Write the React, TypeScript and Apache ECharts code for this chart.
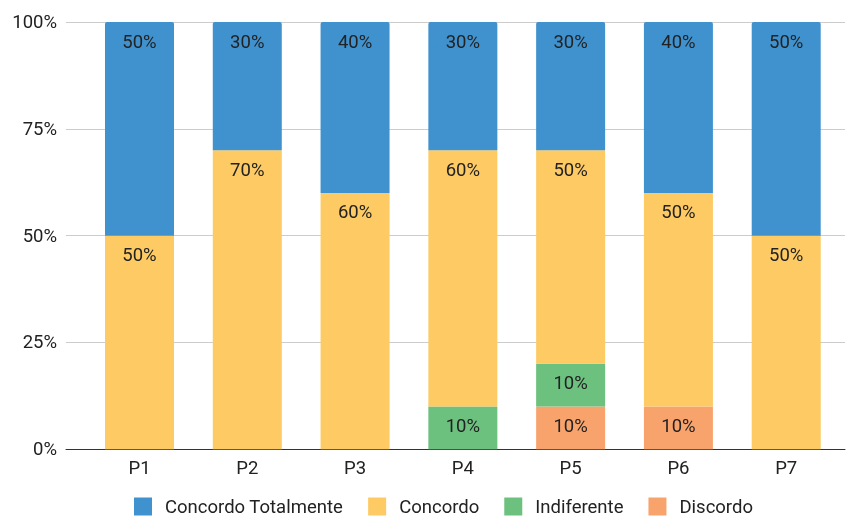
import React, { useEffect, useRef } from "react";
import * as echarts from "echarts";

const categories = ["P1", "P2", "P3", "P4", "P5", "P6", "P7"];
const discordo = [0, 0, 0, 0, 10, 10, 0];
const indiferente = [0, 0, 0, 10, 10, 0, 0];
const concordo = [50, 70, 60, 60, 50, 50, 50];
const concordoTotalmente = [50, 30, 40, 30, 30, 40, 50];
const yTicks = [0, 25, 50, 75, 100];

const FONT = "Roboto, 'Noto Sans', sans-serif";
const FS = 18.5;

export default function App() {
  const ref = useRef<HTMLDivElement>(null);
  useEffect(() => {
    if (!ref.current) return;
    const chart = echarts.init(ref.current, undefined, { renderer: "svg" });
    const label = {
      show: true,
      position: "insideTop",
      distance: 10,
      fontSize: FS,
      color: "#222",
      fontFamily: FONT,
      formatter: (p: any) => (p.value ? p.value + "%" : ""),
    };
    const mk = (name: string, data: number[], color: string, top = false) => ({
      name,
      type: "bar",
      stack: "total",
      xAxisIndex: 1,
      yAxisIndex: 1,
      barWidth: 69,
      data,
      itemStyle: { color, borderRadius: top ? [2, 2, 0, 0] : 0 },
      label,
      emphasis: { disabled: true },
    });
    chart.setOption({
      animation: false,
      textStyle: { fontFamily: FONT },
      legend: {
        top: 497,
        left: 134,
        padding: 0,
        itemWidth: 18,
        itemHeight: 18,
        itemGap: 25,
        icon: "rect",
        textStyle: { fontSize: FS, lineHeight: 18, color: "#222", fontFamily: FONT, padding: [0, 0, 0, 8] },
        data: ["Concordo Totalmente", "Concordo", "Indiferente", "Discordo"],
      },
      grid: [
        { left: 66, right: 1, top: 22, bottom: 66.7 },
        { left: 85.6, right: 5.9, top: 22, bottom: 66.7 },
      ],
      xAxis: [
        {
          type: "value",
          gridIndex: 0,
          min: 0,
          max: 1,
          axisLabel: { show: false },
          axisTick: { show: false },
          splitLine: { show: false },
          axisLine: { show: true, lineStyle: { color: "#333", width: 1 } },
        },
        {
          type: "category",
          gridIndex: 1,
          data: categories,
          axisLine: { show: false },
          axisTick: { show: false },
          axisLabel: { fontSize: FS, color: "#222", margin: 9, fontFamily: FONT },
        },
      ],
      yAxis: [
        {
          type: "value",
          gridIndex: 0,
          min: yTicks[0],
          max: yTicks[yTicks.length - 1],
          interval: 25,
          axisLine: { show: false },
          axisTick: { show: false },
          axisLabel: { formatter: "{value}%", fontSize: FS, color: "#222", margin: 9, fontFamily: FONT },
          splitLine: { lineStyle: { color: "#cccccc", width: 1 } },
        },
        {
          type: "value",
          gridIndex: 1,
          min: 0,
          max: 100,
          show: false,
          splitLine: { show: false },
        },
      ],
      series: [
        mk("Discordo", discordo, "#F8A36C"),
        mk("Indiferente", indiferente, "#6CC17E"),
        mk("Concordo", concordo, "#FDCA63"),
        mk("Concordo Totalmente", concordoTotalmente, "#4092CF", true),
      ],
    });
    return () => chart.dispose();
  }, []);
  return <div ref={ref} style={{ position: "fixed", left: 0, top: 0, width: 846, height: 516 }} />;
}
